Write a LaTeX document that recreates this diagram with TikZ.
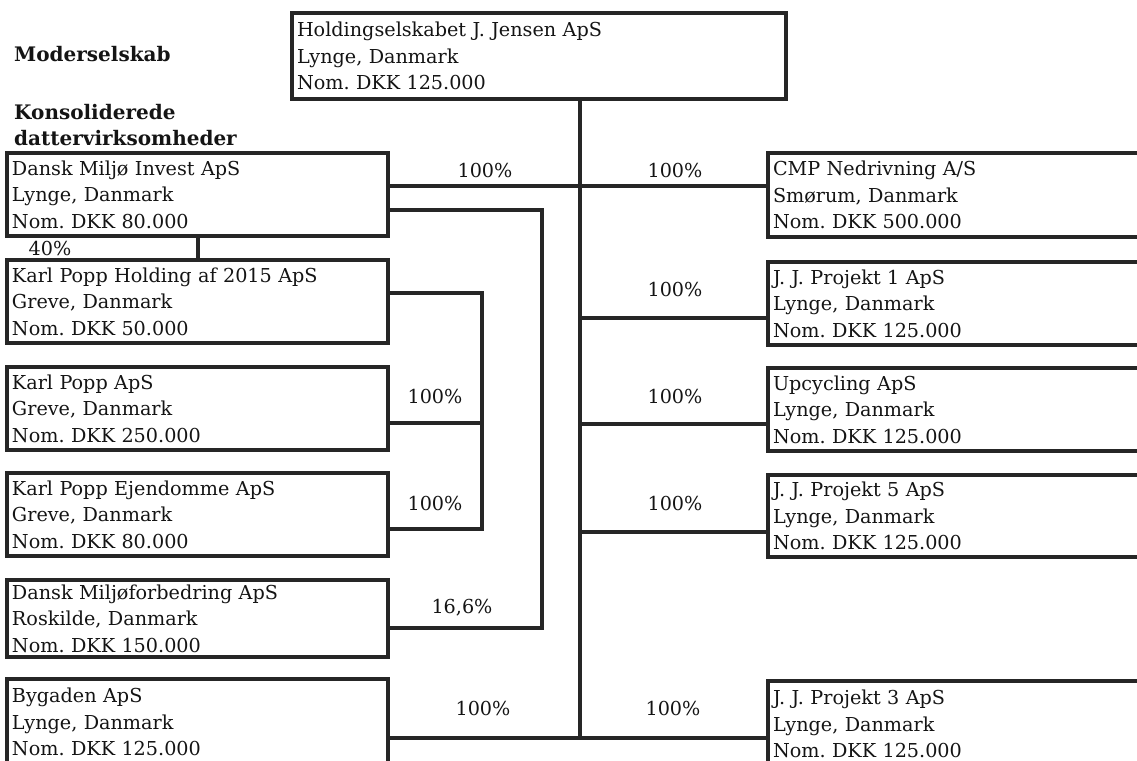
\documentclass[tikz,border=0pt]{standalone}
\usepackage{fontspec}
\setmainfont{DejaVu Serif}
\frenchspacing
\begin{document}
\begin{tikzpicture}[x=1pt,y=-1pt,
  line/.style={draw=black!85, line width=3.4pt},
  orgbox/.style={line, rectangle, outer sep=0pt, inner xsep=5pt, inner ysep=0pt,
    anchor=north west, align=left, font=\frenchspacing\fontsize{19.2}{26.5}\selectfont, text=black!92},
  pct/.style={font=\fontsize{19.2}{22}\selectfont, anchor=base, inner sep=0pt, text=black!92},
  head/.style={font=\bfseries\fontsize{20}{22}\selectfont, anchor=base west, inner sep=0pt, text=black!92}]

\useasboundingbox (0,0) rectangle (1137,760);
\clip (0,0) rectangle (1137,760);

% headings
\node[head] (h1) at (14,62) {Moderselskab};
\node[head] (h2) at (14,119) {Konsoliderede};
\node[head] (h3) at (14,145) {dattervirksomheder};

% parent
\node[orgbox, minimum width=494pt, minimum height=86pt, text width=484pt] (hold) at (292,13)
  {Holdingselskabet J. Jensen ApS\\Lynge, Danmark\\Nom. DKK 125.000};

% left column
\node[orgbox, minimum width=381pt, minimum height=83pt, text width=371pt] (dmi) at (7,153)
  {Dansk Miljø Invest ApS\\Lynge, Danmark\\Nom. DKK 80.000};
\node[orgbox, minimum width=381pt, minimum height=83pt, text width=371pt] (kph) at (7,260)
  {Karl Popp Holding af 2015 ApS\\Greve, Danmark\\Nom. DKK 50.000};
\node[orgbox, minimum width=381pt, minimum height=83pt, text width=371pt] (kpa) at (7,367)
  {Karl Popp ApS\\Greve, Danmark\\Nom. DKK 250.000};
\node[orgbox, minimum width=381pt, minimum height=83pt, text width=371pt] (kpe) at (7,473)
  {Karl Popp Ejendomme ApS\\Greve, Danmark\\Nom. DKK 80.000};
\node[orgbox, minimum width=381pt, minimum height=77pt, text width=371pt] (dmf) at (7,580)
  {Dansk Miljøforbedring ApS\\Roskilde, Danmark\\Nom. DKK 150.000};
\node[orgbox, minimum width=381pt, minimum height=86pt, text width=371pt] (byg) at (7,679)
  {Bygaden ApS\\Lynge, Danmark\\Nom. DKK 125.000};

% right column
\node[orgbox, minimum width=400pt, minimum height=84pt, text width=390pt] (cmp) at (768,153)
  {CMP Nedrivning A/S\\Smørum, Danmark\\Nom. DKK 500.000};
\node[orgbox, minimum width=400pt, minimum height=83pt, text width=390pt] (jj1) at (768,262)
  {J. J. Projekt 1 ApS\\Lynge, Danmark\\Nom. DKK 125.000};
\node[orgbox, minimum width=400pt, minimum height=83pt, text width=390pt] (upc) at (768,368)
  {Upcycling ApS\\Lynge, Danmark\\Nom. DKK 125.000};
\node[orgbox, minimum width=400pt, minimum height=82pt, text width=390pt] (jj5) at (768,475)
  {J. J. Projekt 5 ApS\\Lynge, Danmark\\Nom. DKK 125.000};
\node[orgbox, minimum width=400pt, minimum height=86pt, text width=390pt] (jj3) at (768,681)
  {J. J. Projekt 3 ApS\\Lynge, Danmark\\Nom. DKK 125.000};

% reference coordinates
\coordinate (mx) at (580,0);
\coordinate (kx) at (482,0);
\coordinate (fx) at (542,0);
\coordinate (vx) at (198,0);
\coordinate (yA) at (0,186);
\coordinate (yB) at (0,210);
\coordinate (yC) at (0,628);
\coordinate (yD) at (0,293);
\coordinate (yE) at (0,423);
\coordinate (yF) at (0,529);
\coordinate (yG) at (0,318);
\coordinate (yH) at (0,424);
\coordinate (yI) at (0,532);
\coordinate (yJ) at (0,738);

% connectors
\draw[line] (hold.south -| mx) -- (mx |- yJ);
\draw[line] (dmi.east |- yA) -- (cmp.west |- yA);
\draw[line] (dmi.east |- yB) -| (fx |- yC) -- (dmf.east |- yC);
\draw[line] (dmi.south -| vx) -- (kph.north -| vx);
\draw[line] (kph.east |- yD) -| (kx |- yF) -- (kpe.east |- yF);
\draw[line] (kpa.east |- yE) -- (kx |- yE);
\draw[line] (mx |- yG) -- (jj1.west |- yG);
\draw[line] (mx |- yH) -- (upc.west |- yH);
\draw[line] (mx |- yI) -- (jj5.west |- yI);
\draw[line] (byg.east |- yJ) -- (jj3.west |- yJ);

% percentages
\node[pct] (p1) at (485,177) {100\%};
\node[pct] (p2) at (675,177) {100\%};
\node[pct] (p3) at (50,255) {40\%};
\node[pct] (p4) at (675,296) {100\%};
\node[pct] (p5) at (435,403) {100\%};
\node[pct] (p6) at (675,403) {100\%};
\node[pct] (p7) at (435,510) {100\%};
\node[pct] (p8) at (675,510) {100\%};
\node[pct] (p9) at (462,613) {16,6\%};
\node[pct] (p10) at (483,715) {100\%};
\node[pct] (p11) at (673,715) {100\%};
\end{tikzpicture}
\end{document}
